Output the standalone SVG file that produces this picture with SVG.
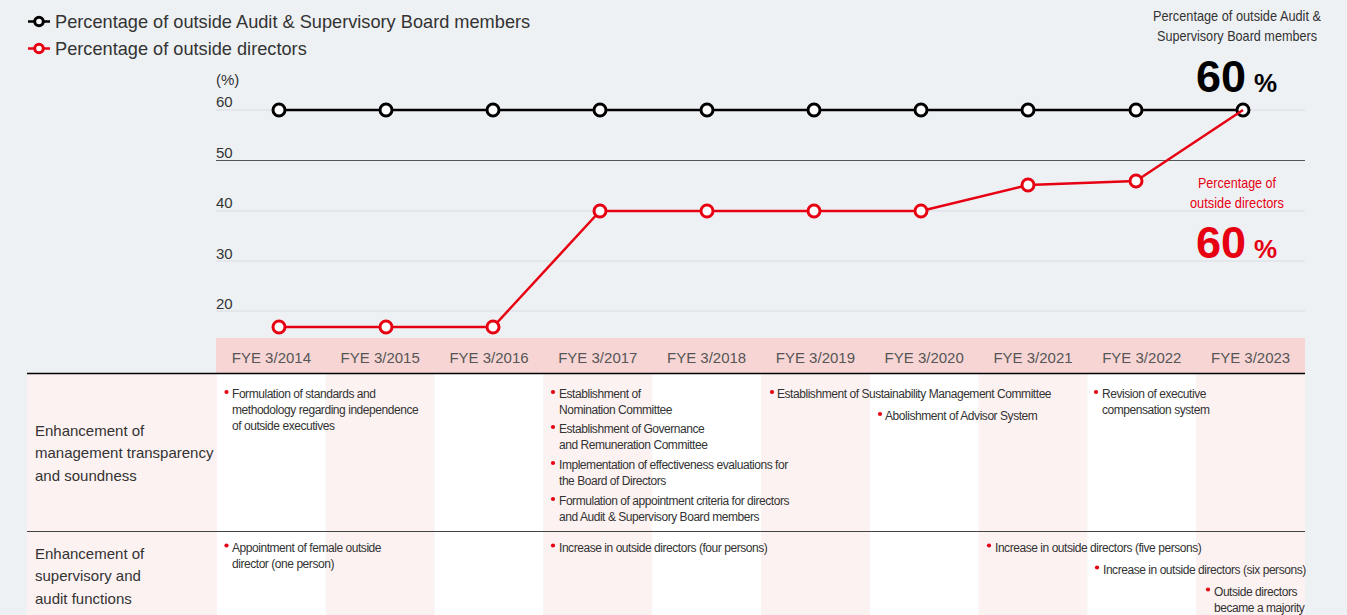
<svg xmlns="http://www.w3.org/2000/svg" width="1347" height="615" viewBox="0 0 1347 615">
<style>
text{font-family:"Liberation Sans",Arial,Helvetica,sans-serif}
.leg{font-size:18.2px;fill:#333}
.ax{font-size:15px;fill:#333}
.fye{font-size:15px;fill:#555;text-anchor:middle}
.rl{font-size:15px;fill:#333}
.b{font-size:12px;fill:#333;letter-spacing:-0.45px}
.dot{fill:#e60012}
.grid{stroke:#d8dce0;stroke-width:1.2}
.pk{fill:#fff;stroke:#000;stroke-width:3}
.pr{fill:#fff;stroke:#e60012;stroke-width:3}
.pink{fill:#fdf2f2}
.white{fill:#fff}
.note{font-size:15px;fill:#333}
</style>
<rect x="0" y="0" width="1347" height="615" fill="#eef1f4"/>

<g id="legend">
  <line x1="28" y1="21.5" x2="50" y2="21.5" stroke="#000" stroke-width="2.5"/>
  <circle cx="39" cy="21.5" r="4.3" class="pk" stroke-width="2.5"/>
  <text x="55" y="28" class="leg">Percentage of outside Audit &amp; Supervisory Board members</text>
  <line x1="28" y1="48.5" x2="50" y2="48.5" stroke="#e60012" stroke-width="2.5"/>
  <circle cx="39" cy="48.5" r="4.3" class="pr" stroke-width="2.5"/>
  <text x="55" y="55" class="leg">Percentage of outside directors</text>
</g>

<g id="axis">
  <text x="216" y="85" class="ax">(%)</text>
  <line x1="216" y1="110" x2="1305" y2="110" class="grid"/>
  <line x1="216" y1="160.5" x2="1305" y2="160.5" stroke="#555" stroke-width="1.2"/>
  <line x1="216" y1="211" x2="1305" y2="211" class="grid"/>
  <line x1="216" y1="261" x2="1305" y2="261" class="grid"/>
  <line x1="216" y1="311" x2="1305" y2="311" class="grid"/>
  <text x="216" y="107" class="ax">60</text>
  <text x="216" y="157.5" class="ax">50</text>
  <text x="216" y="208" class="ax">40</text>
  <text x="216" y="258.5" class="ax">30</text>
  <text x="216" y="308.5" class="ax">20</text>
</g>

<g id="callouts">
  <text x="1153" y="21" class="note" textLength="168" lengthAdjust="spacingAndGlyphs">Percentage of outside Audit &amp;</text>
  <text x="1157" y="40.5" class="note" textLength="160" lengthAdjust="spacingAndGlyphs">Supervisory Board members</text>
  <text x="1196" y="92" font-size="45" font-weight="bold" fill="#000">60</text>
  <text x="1254" y="92" font-size="26" font-weight="bold" fill="#000">%</text>
  <text x="1198" y="188" class="note" style="fill:#e60012" textLength="78" lengthAdjust="spacingAndGlyphs">Percentage of</text>
  <text x="1190" y="208" class="note" style="fill:#e60012" textLength="94" lengthAdjust="spacingAndGlyphs">outside directors</text>
  <text x="1196" y="258" font-size="45" font-weight="bold" fill="#e60012">60</text>
  <text x="1254" y="258" font-size="26" font-weight="bold" fill="#e60012">%</text>
</g>

<g id="connectors">
  <polyline points="279,110 1243,110" fill="none" stroke="#000" stroke-width="2.5"/>
  <g id="audit-points">
    <circle cx="279" cy="110" r="6" class="pk"/>
    <circle cx="386" cy="110" r="6" class="pk"/>
    <circle cx="493" cy="110" r="6" class="pk"/>
    <circle cx="600" cy="110" r="6" class="pk"/>
    <circle cx="707" cy="110" r="6" class="pk"/>
    <circle cx="814" cy="110" r="6" class="pk"/>
    <circle cx="921" cy="110" r="6" class="pk"/>
    <circle cx="1028" cy="110" r="6" class="pk"/>
    <circle cx="1136" cy="110" r="6" class="pk"/>
    <circle cx="1243" cy="110" r="6" class="pk"/>
  </g>
  <polyline points="279,327 386,327 493,327 600,211 707,211 814,211 921,211 1028,185 1136,181 1243,110" fill="none" stroke="#e60012" stroke-width="2.5" stroke-linejoin="round"/>
  <g id="director-points">
    <circle cx="279" cy="327" r="6" class="pr"/>
    <circle cx="386" cy="327" r="6" class="pr"/>
    <circle cx="493" cy="327" r="6" class="pr"/>
    <circle cx="600" cy="211" r="6" class="pr"/>
    <circle cx="707" cy="211" r="6" class="pr"/>
    <circle cx="814" cy="211" r="6" class="pr"/>
    <circle cx="921" cy="211" r="6" class="pr"/>
    <circle cx="1028" cy="185" r="6" class="pr"/>
    <circle cx="1136" cy="181" r="6" class="pr"/>
  </g>
</g>

<g id="xband">
  <rect x="216" y="338" width="1089" height="35" fill="#f8d5d5"/>
  <text x="271.4" y="363" class="fye">FYE 3/2014</text>
  <text x="380.2" y="363" class="fye">FYE 3/2015</text>
  <text x="489" y="363" class="fye">FYE 3/2016</text>
  <text x="597.8" y="363" class="fye">FYE 3/2017</text>
  <text x="706.6" y="363" class="fye">FYE 3/2018</text>
  <text x="815.4" y="363" class="fye">FYE 3/2019</text>
  <text x="924.2" y="363" class="fye">FYE 3/2020</text>
  <text x="1033" y="363" class="fye">FYE 3/2021</text>
  <text x="1141.8" y="363" class="fye">FYE 3/2022</text>
  <text x="1250.6" y="363" class="fye">FYE 3/2023</text>
</g>

<g id="table-bg">
  <rect x="27" y="373" width="190" height="242" class="pink"/>
  <rect x="217" y="373" width="108.8" height="242" class="white"/>
  <rect x="325.8" y="373" width="108.8" height="242" class="pink"/>
  <rect x="434.6" y="373" width="108.8" height="242" class="white"/>
  <rect x="543.4" y="373" width="108.8" height="242" class="pink"/>
  <rect x="652.2" y="373" width="108.8" height="242" class="white"/>
  <rect x="761" y="373" width="108.8" height="242" class="pink"/>
  <rect x="869.8" y="373" width="108.8" height="242" class="white"/>
  <rect x="978.6" y="373" width="108.8" height="242" class="pink"/>
  <rect x="1087.4" y="373" width="108.8" height="242" class="white"/>
  <rect x="1196.2" y="373" width="108.8" height="242" class="pink"/>
  <line x1="27" y1="373.5" x2="1305" y2="373.5" stroke="#000" stroke-width="1.3"/>
  <line x1="27" y1="531.5" x2="1305" y2="531.5" stroke="#444" stroke-width="1.2"/>
</g>

<g id="row-transparency">
  <text x="35" y="435.5" class="rl">Enhancement of</text>
  <text x="35" y="458" class="rl">management transparency</text>
  <text x="35" y="480.5" class="rl">and soundness</text>

  <circle cx="226.5" cy="392" r="2.1" class="dot"/>
  <text x="232" y="398" class="b">Formulation of standards and</text>
  <text x="232" y="414" class="b">methodology regarding independence</text>
  <text x="232" y="430" class="b">of outside executives</text>

  <circle cx="553" cy="392" r="2.1" class="dot"/>
  <text x="559" y="398" class="b">Establishment of</text>
  <text x="559" y="414" class="b">Nomination Committee</text>
  <circle cx="553" cy="427" r="2.1" class="dot"/>
  <text x="559" y="433" class="b">Establishment of Governance</text>
  <text x="559" y="449" class="b">and Remuneration Committee</text>
  <circle cx="553" cy="463" r="2.1" class="dot"/>
  <text x="559" y="469" class="b">Implementation of effectiveness evaluations for</text>
  <text x="559" y="485" class="b">the Board of Directors</text>
  <circle cx="553" cy="499" r="2.1" class="dot"/>
  <text x="559" y="505" class="b">Formulation of appointment criteria for directors</text>
  <text x="559" y="521" class="b">and Audit &amp; Supervisory Board members</text>

  <circle cx="772" cy="392" r="2.1" class="dot"/>
  <text x="777" y="398" class="b">Establishment of Sustainability Management Committee</text>

  <circle cx="880" cy="414" r="2.1" class="dot"/>
  <text x="885" y="420" class="b">Abolishment of Advisor System</text>

  <circle cx="1096" cy="392" r="2.1" class="dot"/>
  <text x="1102" y="398" class="b">Revision of executive</text>
  <text x="1102" y="414" class="b">compensation system</text>
</g>

<g id="row-supervisory">
  <text x="35" y="558.5" class="rl">Enhancement of</text>
  <text x="35" y="581" class="rl">supervisory and</text>
  <text x="35" y="603.5" class="rl">audit functions</text>

  <circle cx="226.5" cy="545.5" r="2.1" class="dot"/>
  <text x="232" y="551.5" class="b">Appointment of female outside</text>
  <text x="232" y="567.5" class="b">director (one person)</text>

  <circle cx="553" cy="545.5" r="2.1" class="dot"/>
  <text x="559" y="551.5" class="b">Increase in outside directors (four persons)</text>

  <circle cx="989" cy="545.5" r="2.1" class="dot"/>
  <text x="995" y="551.5" class="b">Increase in outside directors (five persons)</text>

  <circle cx="1097" cy="567.5" r="2.1" class="dot"/>
  <text x="1103" y="573.5" class="b">Increase in outside directors (six persons)</text>

  <circle cx="1208" cy="589.5" r="2.1" class="dot"/>
  <text x="1214" y="595.5" class="b">Outside directors</text>
  <text x="1214" y="611.5" class="b">became a majority</text>
</g>
</svg>
